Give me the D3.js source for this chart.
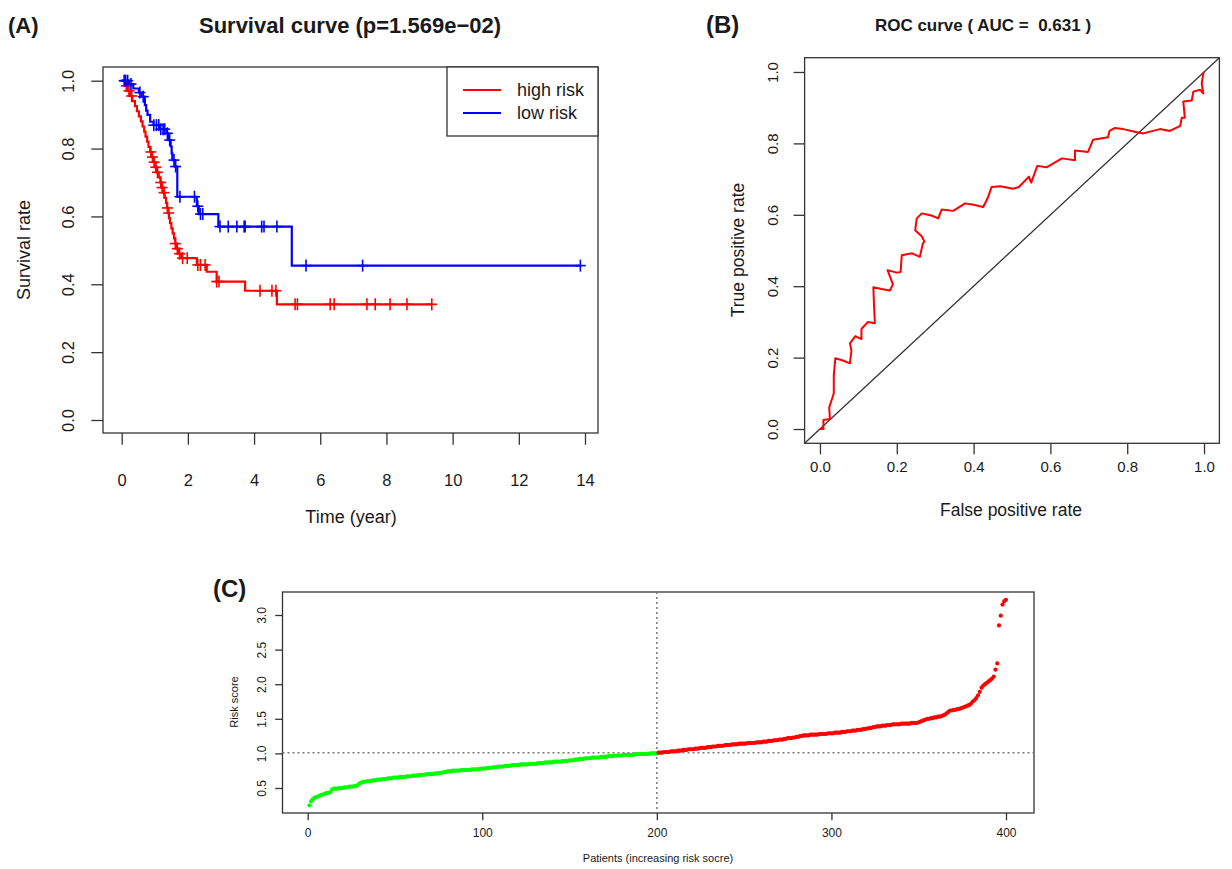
<!DOCTYPE html>
<html>
<head>
<meta charset="utf-8">
<script src="https://cdn.jsdelivr.net/npm/d3@7"></script>
<style>
  body { margin: 0; background: #fff; }
  text { font-family: "Liberation Sans", Arial, sans-serif; fill: #1a1a1a; }
</style>
</head>
<body>
<div id="figure"></div>
<script>
// ---- Panel A: Kaplan-Meier steps (time in years, survival after the step)
var highRiskTime = [0, 0.10, 0.18, 0.25, 0.32, 0.40, 0.46, 0.52, 0.58, 0.63, 0.68, 0.72, 0.77, 0.81, 0.86, 0.90, 0.96, 1.02, 1.07, 1.12, 1.17, 1.22, 1.26, 1.30, 1.34, 1.37, 1.40, 1.43, 1.46, 1.50, 1.54, 1.58, 1.62, 1.66, 1.72, 1.80, 2.27, 2.57, 2.87, 3.73, 4.69];
var highRiskSurv = [1.0, 0.985, 0.97, 0.955, 0.94, 0.925, 0.91, 0.895, 0.88, 0.865, 0.85, 0.835, 0.82, 0.805, 0.79, 0.775, 0.76, 0.745, 0.73, 0.715, 0.70, 0.685, 0.67, 0.655, 0.64, 0.625, 0.61, 0.595, 0.58, 0.565, 0.55, 0.535, 0.52, 0.505, 0.49, 0.477, 0.457, 0.437, 0.408, 0.381, 0.341];
var highRiskCensor = [0.08, 0.14, 0.22, 0.30, 0.88, 0.93, 0.98, 1.03, 1.08, 1.18, 1.22, 1.28, 1.38, 1.42, 1.62, 1.68, 1.75, 1.84, 1.98, 2.30, 2.38, 2.52, 2.87, 2.94, 4.18, 4.54, 4.66, 5.24, 5.31, 6.30, 6.42, 7.41, 7.66, 8.11, 8.62, 9.37];

var lowRiskTime = [0, 0.22, 0.35, 0.52, 0.60, 0.70, 0.74, 0.78, 0.86, 0.96, 1.15, 1.36, 1.41, 1.48, 1.51, 1.53, 1.61, 1.68, 2.27, 2.33, 2.92, 5.14];
var lowRiskSurv = [1.0, 0.99, 0.977, 0.965, 0.953, 0.928, 0.912, 0.899, 0.879, 0.869, 0.857, 0.845, 0.825, 0.806, 0.786, 0.766, 0.747, 0.658, 0.63, 0.607, 0.57, 0.455];
var lowRiskCensor = [0.08, 0.12, 0.18, 0.28, 0.55, 0.65, 0.97, 1.05, 1.12, 1.18, 1.25, 1.30, 1.38, 1.45, 1.58, 1.63, 1.76, 2.20, 2.30, 2.38, 2.45, 2.97, 3.22, 3.48, 3.70, 3.73, 4.23, 4.30, 4.69, 5.57, 7.28, 13.86];

var survGroups = ["high risk", "low risk"];
var survColors = ["#ff0000", "#0000ff"];
var survXTicks = [0, 2, 4, 6, 8, 10, 12, 14];
var survYTicks = [0, 0.2, 0.4, 0.6, 0.8, 1.0];

// ---- Panel B: ROC curve points
var rocFpr = [0.000, 0.009, 0.009, 0.026, 0.024, 0.030, 0.036, 0.036, 0.040, 0.060, 0.078, 0.082, 0.078, 0.092, 0.108, 0.108, 0.125, 0.143, 0.141, 0.139, 0.160, 0.182, 0.190, 0.176, 0.200, 0.210, 0.213, 0.240, 0.260, 0.268, 0.272, 0.265, 0.248, 0.252, 0.265, 0.290, 0.308, 0.317, 0.347, 0.378, 0.400, 0.425, 0.438, 0.447, 0.469, 0.503, 0.518, 0.544, 0.550, 0.566, 0.590, 0.630, 0.664, 0.664, 0.698, 0.711, 0.750, 0.754, 0.767, 0.790, 0.825, 0.842, 0.885, 0.911, 0.938, 0.942, 0.950, 0.946, 0.968, 0.972, 0.990, 0.998, 0.994, 0.998, 1.000];
var rocTpr = [0.000, 0.000, 0.025, 0.028, 0.060, 0.080, 0.100, 0.150, 0.198, 0.192, 0.184, 0.220, 0.240, 0.260, 0.252, 0.280, 0.300, 0.296, 0.340, 0.397, 0.392, 0.388, 0.405, 0.445, 0.438, 0.440, 0.487, 0.492, 0.482, 0.520, 0.525, 0.540, 0.557, 0.590, 0.604, 0.598, 0.590, 0.615, 0.611, 0.632, 0.628, 0.622, 0.650, 0.678, 0.680, 0.673, 0.678, 0.707, 0.690, 0.737, 0.733, 0.758, 0.753, 0.780, 0.776, 0.810, 0.817, 0.835, 0.843, 0.840, 0.831, 0.828, 0.840, 0.835, 0.849, 0.872, 0.872, 0.917, 0.920, 0.945, 0.950, 0.940, 0.968, 0.996, 1.000];
var rocTicks = [0, 0.2, 0.4, 0.6, 0.8, 1.0];

// ---- Panel C: sorted risk score for 400 patients
var riskScore = [
  0.25, 0.31, 0.34, 0.36, 0.37, 0.38, 0.39, 0.40, 0.41, 0.42, 0.43, 0.43, 0.44, 0.48, 0.49, 0.49, 0.49, 0.50, 0.50, 0.50,
  0.51, 0.51, 0.51, 0.52, 0.52, 0.52, 0.53, 0.53, 0.55, 0.57, 0.58, 0.59, 0.59, 0.60, 0.60, 0.60, 0.61, 0.61, 0.61, 0.62,
  0.62, 0.62, 0.63, 0.63, 0.63, 0.64, 0.64, 0.64, 0.65, 0.65, 0.65, 0.65, 0.66, 0.66, 0.66, 0.66, 0.67, 0.67, 0.67, 0.68,
  0.68, 0.68, 0.68, 0.69, 0.69, 0.69, 0.69, 0.70, 0.70, 0.70, 0.70, 0.70, 0.71, 0.71, 0.71, 0.72, 0.72, 0.73, 0.73, 0.74,
  0.74, 0.74, 0.75, 0.75, 0.75, 0.75, 0.75, 0.76, 0.76, 0.76, 0.76, 0.76, 0.76, 0.77, 0.77, 0.77, 0.77, 0.77, 0.78, 0.78,
  0.78, 0.78, 0.79, 0.79, 0.79, 0.80, 0.80, 0.80, 0.81, 0.81, 0.81, 0.81, 0.82, 0.82, 0.82, 0.82, 0.83, 0.83, 0.83, 0.83,
  0.83, 0.84, 0.84, 0.84, 0.84, 0.84, 0.85, 0.85, 0.85, 0.85, 0.85, 0.86, 0.86, 0.86, 0.86, 0.87, 0.87, 0.87, 0.87, 0.87,
  0.88, 0.88, 0.88, 0.88, 0.88, 0.89, 0.89, 0.89, 0.89, 0.90, 0.90, 0.90, 0.91, 0.91, 0.91, 0.92, 0.92, 0.92, 0.93, 0.93,
  0.93, 0.93, 0.94, 0.94, 0.94, 0.94, 0.94, 0.95, 0.95, 0.95, 0.95, 0.96, 0.96, 0.96, 0.96, 0.97, 0.97, 0.97, 0.97, 0.97,
  0.98, 0.98, 0.98, 0.98, 0.98, 0.98, 0.98, 0.99, 0.99, 0.99, 0.99, 0.99, 0.99, 0.99, 0.99, 1.00, 1.00, 1.00, 1.00, 1.00,
  1.01, 1.01, 1.01, 1.02, 1.02, 1.02, 1.02, 1.03, 1.03, 1.03, 1.03, 1.04, 1.04, 1.04, 1.05, 1.05, 1.05, 1.06, 1.06, 1.06,
  1.06, 1.07, 1.07, 1.07, 1.08, 1.08, 1.08, 1.08, 1.09, 1.09, 1.09, 1.10, 1.10, 1.10, 1.11, 1.11, 1.11, 1.11, 1.12, 1.12,
  1.12, 1.12, 1.13, 1.13, 1.13, 1.13, 1.14, 1.14, 1.14, 1.14, 1.14, 1.15, 1.15, 1.15, 1.15, 1.15, 1.16, 1.16, 1.16, 1.16,
  1.17, 1.17, 1.17, 1.18, 1.18, 1.18, 1.19, 1.19, 1.19, 1.20, 1.20, 1.20, 1.21, 1.21, 1.22, 1.22, 1.22, 1.23, 1.23, 1.24,
  1.24, 1.25, 1.25, 1.26, 1.26, 1.26, 1.26, 1.27, 1.27, 1.27, 1.27, 1.27, 1.28, 1.28, 1.28, 1.28, 1.28, 1.29, 1.29, 1.29,
  1.29, 1.30, 1.30, 1.30, 1.30, 1.31, 1.31, 1.31, 1.32, 1.32, 1.32, 1.33, 1.33, 1.33, 1.34, 1.34, 1.34, 1.35, 1.35, 1.36,
  1.36, 1.37, 1.37, 1.38, 1.38, 1.39, 1.39, 1.39, 1.40, 1.40, 1.40, 1.41, 1.41, 1.41, 1.42, 1.42, 1.42, 1.42, 1.42, 1.43,
  1.43, 1.43, 1.43, 1.43, 1.43, 1.44, 1.44, 1.44, 1.44, 1.45, 1.46, 1.47, 1.48, 1.49, 1.50, 1.50, 1.51, 1.51, 1.52, 1.52,
  1.53, 1.53, 1.54, 1.55, 1.56, 1.58, 1.60, 1.62, 1.62, 1.63, 1.63, 1.64, 1.64, 1.65, 1.66, 1.67, 1.68, 1.69, 1.70, 1.72,
  1.75, 1.77, 1.80, 1.84, 1.89, 1.95, 1.98, 2.00, 2.02, 2.04, 2.06, 2.08, 2.11, 2.21, 2.30, 2.85, 2.99, 3.15, 3.20, 3.22
];
var riskCutoff = 1.01;
var riskSplit = 200;
var riskXTicks = [0, 100, 200, 300, 400];
var riskYTicks = [0.5, 1.0, 1.5, 2.0, 2.5, 3.0];

var axisColor = "#333";

var svg = d3.select("#figure")
  .append("svg")
  .attr("width", 1232)
  .attr("height", 869)
  .style("background", "#fff");

// bottom axis with R style labels
function bottomAxis(g, scale, ticks, fmt, tickLen, labelY, fontSize) {
  g.call(d3.axisBottom(scale).tickValues(ticks).tickSize(tickLen).tickFormat(fmt))
    .attr("font-size", null).attr("font-family", null);
  g.select(".domain").remove();
  g.selectAll(".tick line").attr("stroke", axisColor).attr("stroke-width", 1.3);
  g.selectAll(".tick text")
    .attr("y", labelY)
    .attr("dy", "0.35em")
    .style("font-size", fontSize + "px");
}

// left axis, labels turned parallel to the axis
function leftAxis(g, scale, ticks, fmt, tickLen, labelX, fontSize) {
  g.call(d3.axisLeft(scale).tickValues(ticks).tickSize(tickLen).tickFormat(fmt))
    .attr("font-size", null).attr("font-family", null);
  g.select(".domain").remove();
  g.selectAll(".tick line").attr("stroke", axisColor).attr("stroke-width", 1.3);
  g.selectAll(".tick text")
    .attr("x", 0)
    .attr("dy", "0.35em")
    .attr("text-anchor", "middle")
    .attr("transform", `translate(${labelX},0) rotate(-90)`)
    .style("font-size", fontSize + "px");
}

function frame(x0, y0, x1, y1) {
  svg.append("rect")
    .attr("x", x0).attr("y", y0)
    .attr("width", x1 - x0).attr("height", y1 - y0)
    .attr("fill", "none")
    .attr("stroke", axisColor)
    .attr("stroke-width", 1.3);
}

function survAt(times, surv, t) {
  var i = d3.bisectRight(times, t) - 1;
  return surv[Math.max(i, 0)];
}

// ================= Panel A =================
var aBox = {left: 103, right: 598, top: 67, bottom: 433};
var xSurv = d3.scaleLinear().domain([0, 14]).range([121.7, 585]);
var ySurv = d3.scaleLinear().domain([0, 1]).range([420, 80.7]);

frame(aBox.left, aBox.top, aBox.right, aBox.bottom);

bottomAxis(svg.append("g").attr("transform", `translate(0,${aBox.bottom})`),
  xSurv, survXTicks, d3.format("d"), 11.7, 47, 16.5);
leftAxis(svg.append("g").attr("transform", `translate(${aBox.left},0)`),
  ySurv, survYTicks, d3.format(".1f"), 11.7, -35, 16.5);

var survLine = d3.line()
  .x(d => xSurv(d[0]))
  .y(d => ySurv(d[1]))
  .curve(d3.curveStepAfter);

var survSets = [
  {time: highRiskTime, surv: highRiskSurv, censor: highRiskCensor},
  {time: lowRiskTime, surv: lowRiskSurv, censor: lowRiskCensor}
];

survSets.forEach(function(s, k) {
  var pts = s.time.map((t, i) => [t, s.surv[i]]);
  var tEnd = d3.max(s.censor);
  pts.push([tEnd, s.surv[s.surv.length - 1]]);
  svg.append("path")
    .datum(pts)
    .attr("fill", "none")
    .attr("stroke", survColors[k])
    .attr("stroke-width", 2.2)
    .attr("d", survLine);

  var marks = svg.append("g").selectAll("g")
    .data(s.censor)
    .enter()
    .append("g")
    .attr("transform", t => `translate(${xSurv(t)},${ySurv(survAt(s.time, s.surv, t))})`);
  marks.append("line").attr("x1", -5.5).attr("x2", 5.5).attr("y1", 0).attr("y2", 0)
    .attr("stroke", survColors[k]).attr("stroke-width", 1.6);
  marks.append("line").attr("x1", 0).attr("x2", 0).attr("y1", -6).attr("y2", 6)
    .attr("stroke", survColors[k]).attr("stroke-width", 1.6);
});

// legend
svg.append("rect")
  .attr("x", 447).attr("y", aBox.top)
  .attr("width", aBox.right - 447).attr("height", 69)
  .attr("fill", "#fff")
  .attr("stroke", axisColor)
  .attr("stroke-width", 1.3);
survGroups.forEach(function(name, k) {
  var ly = 90 + k * 23;
  svg.append("line")
    .attr("x1", 463).attr("x2", 501).attr("y1", ly).attr("y2", ly)
    .attr("stroke", survColors[k]).attr("stroke-width", 2.2);
  svg.append("text")
    .attr("x", 517).attr("y", ly).attr("dy", "0.35em")
    .style("font-size", "18px")
    .text(name);
});

svg.append("text")
  .attr("x", 351).attr("y", 517).attr("dy", "0.35em")
  .attr("text-anchor", "middle")
  .style("font-size", "18px")
  .text("Time (year)");
svg.append("text")
  .attr("transform", "translate(24,250) rotate(-90)")
  .attr("dy", "0.35em")
  .attr("text-anchor", "middle")
  .style("font-size", "18px")
  .text("Survival rate");
svg.append("text")
  .attr("x", 350).attr("y", 33)
  .attr("text-anchor", "middle")
  .style("font-size", "22px").style("font-weight", "bold")
  .text("Survival curve (p=1.569e\u221202)");
svg.append("text")
  .attr("x", 8).attr("y", 33)
  .style("font-size", "22px").style("font-weight", "bold")
  .text("(A)");

// ================= Panel B =================
var xRoc = d3.scaleLinear().domain([-0.04, 1.04]).range([804.6, 1219.4]);
var yRoc = d3.scaleLinear().domain([-0.04, 1.04]).range([443.3, 57.7]);

frame(xRoc(-0.04), yRoc(1.04), xRoc(1.04), yRoc(-0.04));

bottomAxis(svg.append("g").attr("transform", `translate(0,${yRoc(-0.04)})`),
  xRoc, rocTicks, d3.format(".1f"), 11, 23, 15);
leftAxis(svg.append("g").attr("transform", `translate(${xRoc(-0.04)},0)`),
  yRoc, rocTicks, d3.format(".1f"), 11, -32, 15);

svg.append("line")
  .attr("x1", xRoc(-0.04)).attr("y1", yRoc(-0.04))
  .attr("x2", xRoc(1.04)).attr("y2", yRoc(1.04))
  .attr("stroke", axisColor).attr("stroke-width", 1.3);

svg.append("path")
  .datum(rocFpr.map((f, i) => [f, rocTpr[i]]))
  .attr("fill", "none")
  .attr("stroke", "#ff0000")
  .attr("stroke-width", 2)
  .attr("stroke-linejoin", "round")
  .attr("d", d3.line().x(d => xRoc(d[0])).y(d => yRoc(d[1])));

svg.append("text")
  .attr("x", 1011).attr("y", 510).attr("dy", "0.35em")
  .attr("text-anchor", "middle")
  .style("font-size", "17.5px")
  .text("False positive rate");
svg.append("text")
  .attr("transform", "translate(738,250) rotate(-90)")
  .attr("dy", "0.35em")
  .attr("text-anchor", "middle")
  .style("font-size", "17.5px")
  .text("True positive rate");
svg.append("text")
  .attr("x", 983).attr("y", 31)
  .attr("text-anchor", "middle")
  .style("font-size", "17px").style("font-weight", "bold")
  .style("white-space", "pre")
  .text("ROC curve ( AUC =  0.631 )");
svg.append("text")
  .attr("x", 706).attr("y", 33)
  .style("font-size", "24px").style("font-weight", "bold")
  .text("(B)");

// ================= Panel C =================
var cBox = {left: 282.5, right: 1034, top: 592, bottom: 813};
var xRisk = d3.scaleLinear().domain([0, 400]).range([307.7, 1006]);
var yRisk = d3.scaleLinear().domain([0.5, 3.0]).range([788, 615]);

frame(cBox.left, cBox.top, cBox.right, cBox.bottom);

bottomAxis(svg.append("g").attr("transform", `translate(0,${cBox.bottom})`),
  xRisk, riskXTicks, d3.format("d"), 7.3, 20, 12);
leftAxis(svg.append("g").attr("transform", `translate(${cBox.left},0)`),
  yRisk, riskYTicks, d3.format(".1f"), 7.3, -21, 12);

svg.append("line")
  .attr("x1", cBox.left).attr("x2", cBox.right)
  .attr("y1", yRisk(riskCutoff)).attr("y2", yRisk(riskCutoff))
  .attr("stroke", "#777").attr("stroke-width", 1.5)
  .attr("stroke-dasharray", "2,3");
svg.append("line")
  .attr("x1", xRisk(riskSplit)).attr("x2", xRisk(riskSplit))
  .attr("y1", cBox.top).attr("y2", cBox.bottom)
  .attr("stroke", "#777").attr("stroke-width", 1.5)
  .attr("stroke-dasharray", "2,3");

svg.append("g").selectAll("circle")
  .data(riskScore)
  .enter()
  .append("circle")
  .attr("cx", (d, i) => xRisk(i + 1))
  .attr("cy", d => yRisk(d))
  .attr("r", 2.1)
  .attr("fill", (d, i) => i < riskSplit ? "#00ff00" : "#ff0000");

svg.append("text")
  .attr("x", 658).attr("y", 858).attr("dy", "0.35em")
  .attr("text-anchor", "middle")
  .style("font-size", "11px")
  .text("Patients (increasing risk socre)");
svg.append("text")
  .attr("transform", "translate(234,702) rotate(-90)")
  .attr("dy", "0.35em")
  .attr("text-anchor", "middle")
  .style("font-size", "11px")
  .text("Risk score");
svg.append("text")
  .attr("x", 213).attr("y", 597)
  .style("font-size", "24px").style("font-weight", "bold")
  .text("(C)");
</script>
</body>
</html>
